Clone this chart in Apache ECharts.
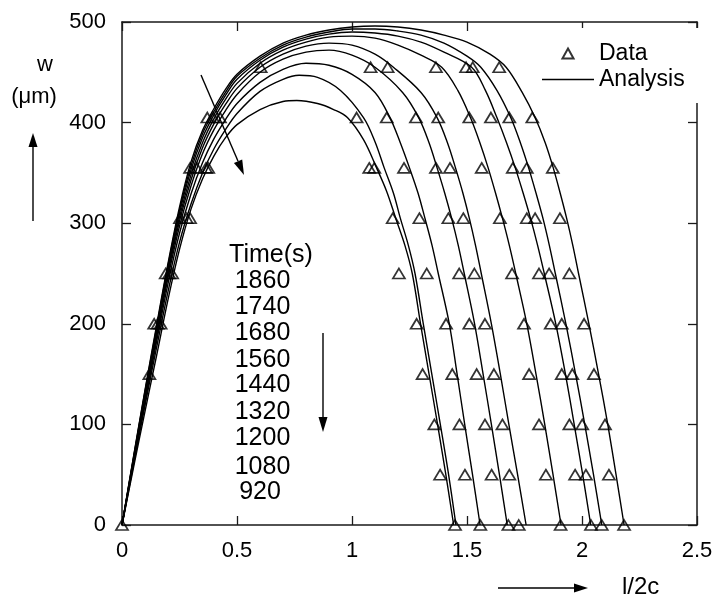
<!DOCTYPE html>
<html><head><meta charset="utf-8">
<script src="https://cdn.jsdelivr.net/npm/echarts@6/dist/echarts.min.js"></script>
<style>html,body{margin:0;padding:0;background:#fff}#c{width:716px;height:600px}</style>
</head><body><div id="c"></div>
<script>
// Time labels (s), top to bottom
const times = ['1860','1740','1680','1560','1440','1320','1200','1080','920'];

// Analysis curves: [l/2c, w (µm)]
const curve1860 = [[0,0],[0.05,68],[0.1,134],[0.15,198],[0.2,260],[0.25,316],[0.3,361],[0.35,392],[0.4,414],[0.45,433],[0.5,448],[0.6,466],[0.7,479],[0.8,487],[0.9,492],[1.0,495],[1.1,496],[1.2,495],[1.3,492],[1.4,487],[1.5,480],[1.6,468],[1.67,455],[1.74,430],[1.796,405],[1.84,380],[1.875,355],[1.905,330],[1.933,305],[1.96,278],[1.985,250],[2.03,200],[2.072,150],[2.112,100],[2.148,50],[2.183,0]];
const curve1740 = [[0,0],[0.05,67],[0.1,133],[0.15,196],[0.2,258],[0.25,313],[0.3,357],[0.35,389],[0.4,411],[0.45,430],[0.5,446],[0.6,464],[0.7,477],[0.8,485],[0.9,490],[1.0,493],[1.1,493],[1.2,491],[1.3,487],[1.4,479],[1.5,466],[1.56,455],[1.63,432],[1.69,405],[1.732,380],[1.768,355],[1.8,330],[1.83,305],[1.858,278],[1.884,250],[1.93,200],[1.972,150],[2.012,100],[2.05,50],[2.086,0]];
const curve1680 = [[0,0],[0.05,66],[0.1,131],[0.15,194],[0.2,256],[0.25,310],[0.3,353],[0.35,385],[0.4,408],[0.45,427],[0.5,443],[0.6,462],[0.7,475],[0.8,483],[0.9,488],[1.0,490],[1.1,489],[1.2,486],[1.3,480],[1.4,470],[1.52,455],[1.58,432],[1.63,405],[1.672,380],[1.71,355],[1.744,330],[1.776,305],[1.807,278],[1.836,250],[1.886,200],[1.928,150],[1.966,100],[2.003,50],[2.038,0]];
const curve1560 = [[0,0],[0.05,65],[0.1,129],[0.15,192],[0.2,253],[0.25,306],[0.3,348],[0.35,380],[0.4,404],[0.45,423],[0.5,439],[0.6,459],[0.7,472],[0.8,480],[0.9,485],[1.0,486],[1.1,484],[1.2,477],[1.3,467],[1.39,455],[1.46,432],[1.515,405],[1.556,380],[1.592,355],[1.624,330],[1.654,305],[1.684,278],[1.712,250],[1.76,200],[1.8,150],[1.838,100],[1.874,50],[1.909,0]];
const curve1440 = [[0,0],[0.05,64],[0.1,127],[0.15,189],[0.2,250],[0.25,302],[0.3,343],[0.35,375],[0.4,399],[0.45,418],[0.5,434],[0.6,455],[0.7,468],[0.8,476],[0.9,479],[1.0,477],[1.1,468],[1.18,455],[1.3,430],[1.37,405],[1.415,380],[1.45,355],[1.482,330],[1.51,305],[1.537,278],[1.562,250],[1.606,200],[1.645,150],[1.682,100],[1.72,50],[1.757,0]];
const curve1320 = [[0,0],[0.05,63],[0.1,125],[0.15,186],[0.2,246],[0.25,297],[0.3,337],[0.35,369],[0.4,393],[0.45,412],[0.5,428],[0.6,450],[0.7,463],[0.8,470],[0.9,472],[1.0,467],[1.1,455],[1.22,430],[1.29,405],[1.335,380],[1.37,355],[1.403,330],[1.433,305],[1.462,278],[1.488,250],[1.533,200],[1.57,150],[1.606,100],[1.641,50],[1.675,0]];
const curve1200 = [[0,0],[0.05,62],[0.1,122],[0.15,182],[0.2,240],[0.25,290],[0.3,329],[0.35,360],[0.4,384],[0.45,403],[0.5,419],[0.6,440],[0.7,453],[0.8,459],[0.9,457],[1.0,448],[1.1,430],[1.165,405],[1.21,380],[1.25,355],[1.287,330],[1.317,305],[1.348,278],[1.375,250],[1.423,200],[1.457,150],[1.49,100],[1.524,50],[1.557,0]];
const curve1080 = [[0,0],[0.05,60],[0.1,119],[0.15,176],[0.2,232],[0.25,281],[0.3,319],[0.35,350],[0.4,374],[0.45,393],[0.5,409],[0.6,431],[0.7,443],[0.77,447],[0.85,445],[0.95,432],[1.05,405],[1.1,381],[1.14,355],[1.18,330],[1.21,305],[1.245,278],[1.274,250],[1.31,200],[1.347,150],[1.384,100],[1.42,50],[1.452,0]];
const curve920  = [[0,0],[0.05,57],[0.1,113],[0.15,168],[0.2,224],[0.25,274],[0.3,314],[0.35,344],[0.4,367],[0.45,385],[0.5,398],[0.6,413],[0.7,421],[0.76,422],[0.85,419],[0.92,413],[0.98,405],[1.05,383],[1.107,355],[1.15,332],[1.19,305],[1.23,278],[1.262,250],[1.298,200],[1.335,150],[1.372,100],[1.408,50],[1.442,0]];
const curves = [curve1860, curve1740, curve1680, curve1560, curve1440, curve1320, curve1200, curve1080, curve920];

// Measured data: w level and the l/2c positions of triangles on that level
const dataLevels = [0, 50, 100, 150, 200, 250, 305, 355, 405, 455];
const row0   = [0, 1.448, 1.558, 1.680, 1.725, 1.907, 2.039, 2.086, 2.183];
const row50  = [1.383, 1.491, 1.607, 1.684, 1.843, 1.970, 2.017, 2.117];
const row100 = [1.358, 1.467, 1.578, 1.654, 1.813, 1.945, 2.001, 2.100];
const row150 = [0.119, 1.307, 1.436, 1.542, 1.617, 1.770, 1.912, 1.958, 2.052];
const row200 = [0.140, 0.155, 0.168, 1.281, 1.409, 1.510, 1.578, 1.748, 1.864, 1.912, 2.009];
const row250 = [0.190, 0.205, 0.218, 1.204, 1.325, 1.466, 1.532, 1.696, 1.813, 1.857, 1.945];
const row305 = [0.252, 0.281, 0.296, 1.177, 1.293, 1.419, 1.484, 1.643, 1.760, 1.796, 1.904];
const row355 = [0.296, 0.325, 0.365, 0.375, 1.075, 1.097, 1.226, 1.365, 1.426, 1.564, 1.699, 1.760, 1.873];
const row405 = [0.371, 0.397, 0.426, 1.020, 1.151, 1.278, 1.375, 1.510, 1.604, 1.684, 1.784];
const row455 = [0.603, 1.081, 1.155, 1.365, 1.496, 1.525, 1.640];
const rows = [row0, row50, row100, row150, row200, row250, row305, row355, row405, row455];

const scatterData = [];
rows.forEach((r, i) => r.forEach(x => scatterData.push([x, dataLevels[i]])));

const FONT = "'Liberation Sans', Arial, sans-serif";
const axisCommon = {
  type: 'value', splitLine: {show: false},
  axisLine: {show: true, onZero: false, lineStyle: {color: '#1a1a1a', width: 1.5}},
  axisTick: {show: true, inside: true, length: 9, lineStyle: {color: '#1a1a1a', width: 1.3}}
};

const series = curves.map((c, i) => ({
  name: 'Analysis', type: 'line', data: c, symbol: 'none', showSymbol: false, smooth: 0.35,
  lineStyle: {color: '#000', width: 1.4}, itemStyle: {color: '#000'}, z: 2, silent: true
}));
series.push({
  name: 'Data', type: 'scatter', data: scatterData,
  symbol: 'path://M5,0 L10,9 L0,9 Z', symbolSize: [12, 10], symbolKeepAspect: false,
  itemStyle: {color: 'rgba(255,255,255,0)', borderColor: '#000', borderWidth: 1.7}, z: 3
});

function arrow(x1, y1, x2, y2, headLen, headW) {
  const dx = x2 - x1, dy = y2 - y1, L = Math.hypot(dx, dy);
  const ux = dx / L, uy = dy / L;
  const bx = x2 - ux * headLen, by = y2 - uy * headLen;
  const px = -uy * headW / 2, py = ux * headW / 2;
  return [
    {type: 'line', shape: {x1, y1, x2: bx, y2: by}, style: {stroke: '#000', lineWidth: 1.4}, z: 20},
    {type: 'polygon', shape: {points: [[x2, y2], [bx + px, by + py], [bx - px, by - py]]}, style: {fill: '#000'}, z: 20}
  ];
}

const graphics = [];
graphics.push({type: 'text', x: 271, y: 255, style: {text: 'Time(s)', font: '25px ' + FONT, fill: '#000', align: 'center', verticalAlign: 'middle'}, z: 20});
const timeY = [281, 307, 333, 360, 385, 412, 438, 467, 492];
times.forEach((t, i) => graphics.push({type: 'text', x: i === 8 ? 260 : 262.5, y: timeY[i], style: {text: t, font: '25px ' + FONT, fill: '#000', align: 'center', verticalAlign: 'middle'}, z: 20}));
graphics.push(...arrow(323, 333, 323, 432, 15, 9));
graphics.push(...arrow(201, 75, 244, 175, 15, 9));
graphics.push({type: 'text', x: 45, y: 65, style: {text: 'w', font: '22px ' + FONT, fill: '#000', align: 'center', verticalAlign: 'middle'}, z: 20});
graphics.push({type: 'text', x: 34, y: 97, style: {text: '(\u03bcm)', font: '22px ' + FONT, fill: '#000', align: 'center', verticalAlign: 'middle'}, z: 20});
graphics.push(...arrow(33, 221, 33, 133, 14, 9));
graphics.push({type: 'text', x: 622, y: 587, style: {text: 'l/2c', font: '24px ' + FONT, fill: '#000', align: 'left', verticalAlign: 'middle'}, z: 20});
graphics.push(...arrow(498, 588, 588, 588, 14, 9));

const option = {
  animation: false,
  backgroundColor: '#fff',
  grid: {left: 122, top: 22, width: 575, height: 503, containLabel: false},
  xAxis: [
    Object.assign({}, axisCommon, {position: 'bottom', min: 0, max: 2.5, interval: 0.5,
      axisLabel: {show: true, margin: 15, fontSize: 22, fontFamily: FONT, color: '#000'}}),
    Object.assign({}, axisCommon, {position: 'top', min: 0, max: 2.5, interval: 0.5, axisLabel: {show: false}})
  ],
  yAxis: [
    Object.assign({}, axisCommon, {position: 'left', min: 0, max: 500, interval: 100,
      axisLabel: {show: true, margin: 16, fontSize: 22, fontFamily: FONT, color: '#000'}}),
    Object.assign({}, axisCommon, {position: 'right', min: 0, max: 500, interval: 100, axisLabel: {show: false}})
  ],
  legend: {
    orient: 'vertical', left: 537, top: 28, padding: [14, 15, 12, 5], itemGap: 3,
    backgroundColor: '#fff', itemWidth: 52, itemHeight: 10, symbolKeepAspect: true,
    data: [
      {name: 'Data', icon: 'path://M5,0 L10,9 L0,9 Z'},
      {name: 'Analysis', icon: 'path://M0,0 L52,0 L52,1.4 L0,1.4 Z', itemStyle: {color: '#000', borderWidth: 0}}
    ],
    textStyle: {fontSize: 23, fontFamily: FONT, color: '#000'}, selectedMode: false, z: 10
  },
  graphic: graphics,
  series: series
};
echarts.init(document.getElementById('c'), null, {renderer: 'canvas'}).setOption(option);
</script></body></html>
